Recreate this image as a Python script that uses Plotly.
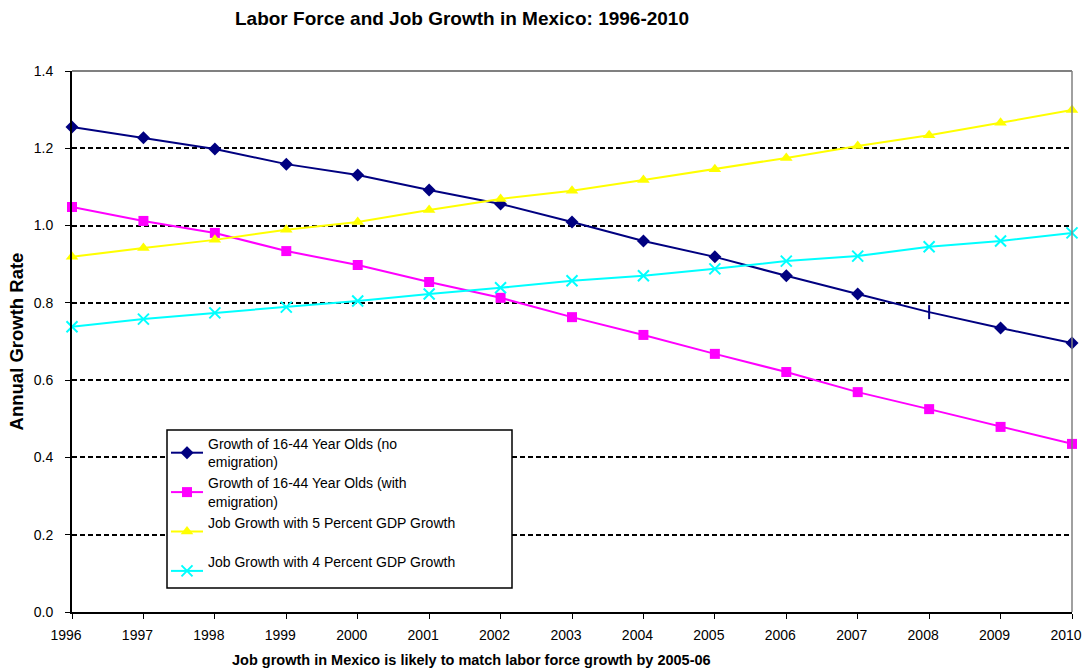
import plotly.graph_objects as go

years = list(range(1996, 2011))
no_emig = [1.255, 1.227, 1.198, 1.159, 1.131, 1.092, 1.056, 1.009, 0.960, 0.919, 0.870, 0.823, 0.776, 0.735, 0.696]
with_emig = [1.048, 1.012, 0.981, 0.934, 0.898, 0.854, 0.813, 0.763, 0.717, 0.668, 0.621, 0.569, 0.525, 0.479, 0.435]
gdp5 = [0.919, 0.942, 0.963, 0.989, 1.009, 1.040, 1.069, 1.090, 1.118, 1.146, 1.175, 1.206, 1.234, 1.266, 1.299]
gdp4 = [0.738, 0.758, 0.774, 0.789, 0.805, 0.823, 0.839, 0.857, 0.870, 0.888, 0.908, 0.921, 0.945, 0.960, 0.981]
y_ticks = [0.0, 0.2, 0.4, 0.6, 0.8, 1.0, 1.2, 1.4]

names = [
    "Growth of 16-44 Year Olds (no<br>emigration)",
    "Growth of 16-44 Year Olds (with<br>emigration)",
    "Job Growth with 5 Percent GDP Growth<br> ",
    "Job Growth with 4 Percent GDP Growth<br> ",
]

FONT = "Liberation Sans, Arial, sans-serif"

fig = go.Figure()
navy_symbols = ["diamond"] * len(years)
navy_symbols[years.index(2008)] = "line-ns"
navy_lw = [0] * len(years)
navy_lw[years.index(2008)] = 2
fig.add_trace(go.Scatter(x=years, y=no_emig, mode="lines+markers", name=names[0],
                         line=dict(color="#000080", width=2),
                         marker=dict(symbol=navy_symbols, size=10, color="#000080",
                                     line=dict(color="#000080", width=navy_lw)),
                         cliponaxis=False))
fig.add_trace(go.Scatter(x=years, y=with_emig, mode="lines+markers", name=names[1],
                         line=dict(color="#FF00FF", width=2),
                         marker=dict(symbol="square", size=10, color="#FF00FF"),
                         cliponaxis=False))
fig.add_trace(go.Scatter(x=years, y=gdp5, mode="lines+markers", name=names[2],
                         line=dict(color="#FFFF00", width=2),
                         marker=dict(symbol="triangle-up", size=11, color="#FFFF00"),
                         cliponaxis=False))
fig.add_trace(go.Scatter(x=years, y=gdp4, mode="lines+markers", name=names[3],
                         line=dict(color="#00FFFF", width=2),
                         marker=dict(symbol="x-thin", size=11, color="#00FFFF",
                                     line=dict(color="#00FFFF", width=2)),
                         cliponaxis=False))

fig.update_layout(
    width=1083, height=671,
    margin=dict(l=72, r=11, t=71, b=59, autoexpand=False),
    paper_bgcolor="white", plot_bgcolor="white",
    font=dict(family=FONT, size=14, color="black"),
    title=dict(text="<b>Labor Force and Job Growth in Mexico: 1996-2010</b>",
               x=462 / 1083, xanchor="center", y=1 - 18 / 671, yanchor="middle",
               font=dict(size=19, family=FONT)),
    showlegend=True,
    legend=dict(x=(166 - 72) / 1000, y=(612 - 428) / 541, xanchor="left", yanchor="top",
                bgcolor="rgba(0,0,0,0)", borderwidth=0,
                font=dict(size=14, family=FONT), tracegroupgap=0, itemwidth=32),
    xaxis=dict(range=[1996, 2010], tickmode="array", tickvals=years,
               ticktext=[str(y) for y in years], showgrid=False,
               showline=True, linecolor="black", linewidth=2,
               ticks="outside", ticklen=5, tickcolor="black", tickwidth=1,
               tickfont=dict(size=14), zeroline=False, ticklabelstandoff=4,
               ticklabelshift=-6,
               ticklabeloverflow="allow", automargin=False),
    yaxis=dict(range=[0, 1.4], tickmode="array", tickvals=y_ticks,
               ticktext=[f"{v:.1f}" for v in y_ticks],
               showgrid=True, gridcolor="black", gridwidth=1.5, griddash="5px,3px",
               showline=True, linecolor="black", linewidth=2,
               ticks="outside", ticklen=5, tickcolor="black",
               tickfont=dict(size=14), zeroline=False, automargin=False,
               ticklabelstandoff=9,
               title=dict(text="<b>Annual Growth Rate</b>", font=dict(size=18.5, family=FONT),
                          standoff=5)),
    shapes=[
        dict(type="line", xref="paper", yref="paper", x0=0, x1=1, y0=1, y1=1,
             line=dict(color="#808080", width=2), layer="above"),
        dict(type="line", xref="paper", yref="paper", x0=1, x1=1, y0=0, y1=1,
             line=dict(color="#808080", width=1.5), layer="above"),
        dict(type="rect", xref="paper", yref="paper",
             x0=(167 - 72) / 1000, x1=(512 - 72) / 1000,
             y0=(612 - 588) / 541, y1=(612 - 430) / 541,
             fillcolor="white", line=dict(color="black", width=1.5), layer="above"),
    ],
    annotations=[
        dict(text="<b>Job growth in Mexico is likely to match labor force growth by 2005-06</b>",
             xref="paper", yref="paper", x=(471 - 72) / 1000, y=(612 - 660) / 541,
             xanchor="center", yanchor="middle", showarrow=False,
             font=dict(size=14.5, family=FONT)),
    ],
)

fig.write_html("out.html", config={"displayModeBar": False},
               post_script="document.body.style.margin='0';")
